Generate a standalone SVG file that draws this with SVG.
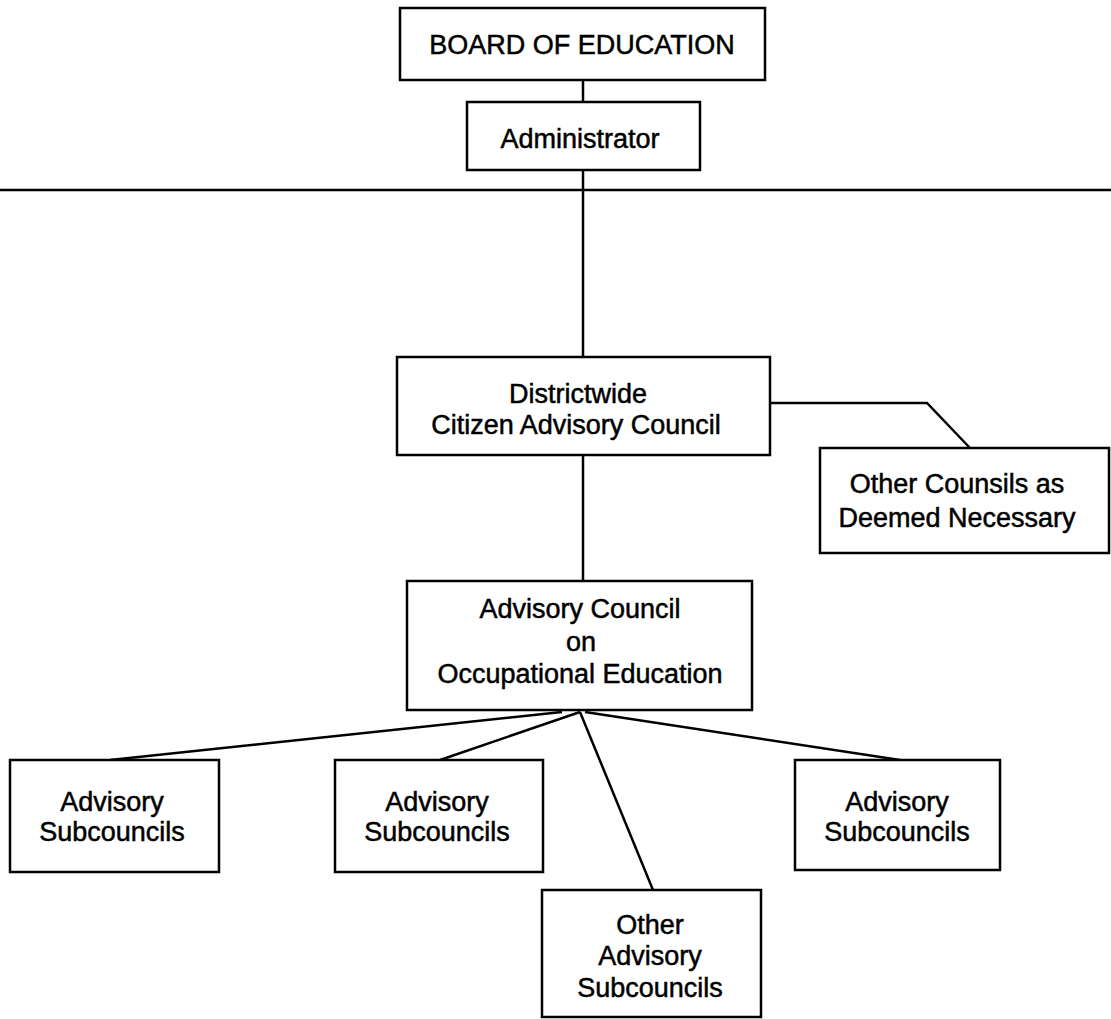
<svg xmlns="http://www.w3.org/2000/svg" width="1111" height="1019" viewBox="0 0 1111 1019">
<style>
.box{fill:#fff;stroke:#000;stroke-width:2.5}
.ln{fill:none;stroke:#000;stroke-width:2.5}
text{font-family:"Liberation Sans",Arial,sans-serif;font-size:27px;fill:#000;stroke:#000;stroke-width:0.5;text-anchor:middle}
</style>
<rect width="1111" height="1019" fill="#fff"/>
<g id="connectors">
<line class="ln" x1="0" y1="190" x2="1111" y2="190"/>
<line class="ln" x1="583" y1="80" x2="583" y2="102"/>
<line class="ln" x1="583" y1="170" x2="583" y2="357"/>
<line class="ln" x1="583" y1="455" x2="583" y2="581"/>
<polyline class="ln" points="770,403 927,403 970,448"/>
<line class="ln" x1="562" y1="712" x2="110" y2="760"/>
<line class="ln" x1="580" y1="712" x2="440" y2="760"/>
<line class="ln" x1="580" y1="712" x2="653" y2="890"/>
<line class="ln" x1="585" y1="712" x2="900" y2="760"/>
</g>
<g id="board">
<rect class="box" x="400" y="8" width="365" height="72"/>
<text x="582" y="54">BOARD OF EDUCATION</text>
</g>
<g id="administrator">
<rect class="box" x="467" y="102" width="233" height="68"/>
<text x="580" y="148">Administrator</text>
</g>
<g id="districtwide">
<rect class="box" x="397" y="357" width="373" height="98"/>
<text x="578" y="403">Districtwide</text>
<text x="576" y="434">Citizen Advisory Council</text>
</g>
<g id="other-counsils">
<rect class="box" x="820" y="448" width="289" height="105"/>
<text x="957" y="493">Other Counsils as</text>
<text x="957" y="527">Deemed Necessary</text>
</g>
<g id="advisory-council">
<rect class="box" x="407" y="581" width="345" height="129"/>
<text x="580" y="618">Advisory Council</text>
<text x="581" y="651">on</text>
<text x="580" y="683">Occupational Education</text>
</g>
<g id="sub1">
<rect class="box" x="10" y="760" width="209" height="112"/>
<text x="112" y="811">Advisory</text>
<text x="112" y="841">Subcouncils</text>
</g>
<g id="sub2">
<rect class="box" x="335" y="760" width="208" height="112"/>
<text x="437" y="811">Advisory</text>
<text x="437" y="841">Subcouncils</text>
</g>
<g id="sub3">
<rect class="box" x="795" y="760" width="205" height="110"/>
<text x="897" y="811">Advisory</text>
<text x="897" y="841">Subcouncils</text>
</g>
<g id="other-sub">
<rect class="box" x="542" y="890" width="219" height="127"/>
<text x="650" y="934">Other</text>
<text x="650" y="965">Advisory</text>
<text x="650" y="997">Subcouncils</text>
</g>
</svg>
